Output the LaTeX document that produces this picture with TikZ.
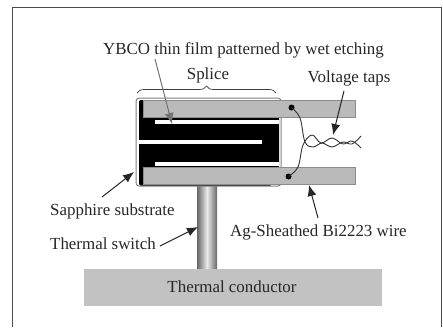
\documentclass[tikz,border=0pt]{standalone}
\usepackage{fontspec}
\setmainfont{Liberation Serif}
\usetikzlibrary{arrows.meta,decorations.pathreplacing}
\tikzset{
  lbl/.style={inner sep=0pt, font=\fontsize{16.9}{19}\selectfont, text=black!85},
  ptr/.style={-{Latex[length=11pt,width=9pt]}, line width=1pt, black!85},
  wire/.style={draw=black!45, fill=black!27, line width=0.6pt, inner sep=0pt, minimum width=212pt, minimum height=16.5pt},
  slot/.style={fill=white, draw=none, inner sep=0pt, minimum height=4pt},
  tap/.style={line width=0.9pt, black!80},
}
\begin{document}
\begin{tikzpicture}[x=1pt, y=-1pt]
  \useasboundingbox (0,0) rectangle (443,327);
  \draw[black!70, line width=0.9pt] (12,7.5) -- (441.5,7.5) -- (441.5,327) (12,7.5) -- (12,327);
  % switch and conductor
  \shade[left color=black!60, right color=black!60, middle color=black!8] (197,186) rectangle (217,270);
  \node[fill=black!24, inner sep=0pt, minimum width=298pt, minimum height=37pt] (conductor) at (233,287.5) {};
  \node[lbl] (conductorlbl) at (232,287) {Thermal conductor};
  % substrate
  \draw[black!50, fill=white, line width=1pt, rounded corners=3pt] (136,98) rectangle (281,186);
  \fill[black, rounded corners=2pt] (139,100) rectangle (279,168);
  \fill[black, rounded corners=2pt] (139,160) rectangle (272,185.5);
  \node[slot, minimum width=124pt, anchor=west] (slota) at (155,121.5) {};
  \node[slot, minimum width=123pt, anchor=west] (slotb) at (139,142) {};
  \node[slot, minimum width=124pt, anchor=west] (slotc) at (155,163.5) {};
  \node[wire, anchor=north west] (wiretop) at (143,100) {};
  \node[wire, anchor=north west] (wirebot) at (143,167) {};
  % taps
  \node[circle, fill=black, inner sep=0pt, minimum size=6pt] (dottop) at (291.5,107.5) {};
  \node[circle, fill=black, inner sep=0pt, minimum size=6pt] (dotbot) at (288.5,176.5) {};
  \draw[tap] plot[smooth, tension=0.6] coordinates {(dottop) (300,118) (305,142) (313,147) (322,143) (332,147) (343,142) (352,144) (361,136)};
  \draw[tap] plot[smooth, tension=0.6] coordinates {(dotbot) (298,167) (303,145) (312,135) (321,143) (332,138) (343,144) (352,141) (361,148)};
  % labels
  \node[lbl] (film) at (243.5,50) {YBCO thin film patterned by wet etching};
  \node[lbl] (splice) at (208,75) {Splice};
  \node[lbl] (taps) at (349,78) {Voltage taps};
  \node[lbl, anchor=west] (sapphire) at (50,211) {Sapphire substrate};
  \node[lbl, anchor=west] (switch) at (50,244) {Thermal switch};
  \node[lbl, anchor=west] (wirelbl) at (230,232) {Ag-Sheathed Bi2223 wire};
  % brace
  \coordinate (bracel) at (137,93);
  \coordinate (bracer) at (276,93);
  \draw[decorate, decoration={brace, amplitude=7pt}, black!75, line width=0.7pt] (bracel) -- (bracer);
  % arrows
  \coordinate (filmtip) at (172,124);
  \coordinate (tapstip) at (333,135);
  \coordinate (sapphiretip) at (134,172);
  \coordinate (switchtip) at (198,227);
  \coordinate (wiretip) at (309,185);
  \coordinate (filmtail) at (155,59);
  \coordinate (tapstail) at (344,91);
  \coordinate (sapphiretail) at (102,197);
  \coordinate (switchtail) at (160,246);
  \coordinate (wiretail) at (318,218);
  \draw[ptr, black!55] (filmtail) -- (filmtip);
  \draw[ptr] (tapstail) -- (tapstip);
  \draw[ptr] (sapphiretail) -- (sapphiretip);
  \draw[ptr] (switchtail) -- (switchtip);
  \draw[ptr] (wiretail) -- (wiretip);
\end{tikzpicture}
\end{document}
